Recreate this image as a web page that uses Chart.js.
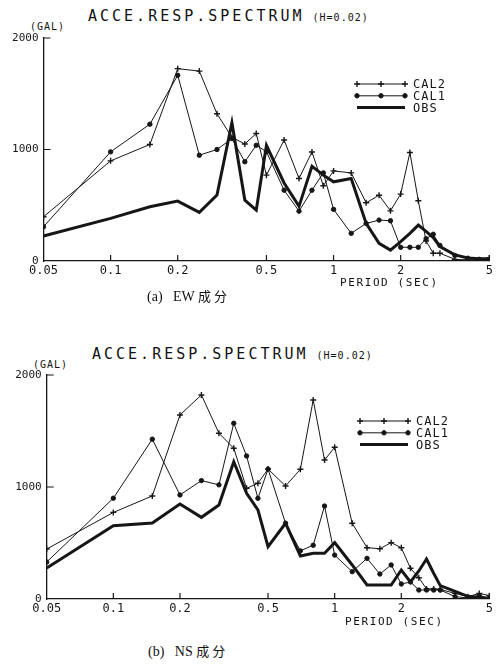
<!DOCTYPE html>
<html>
<head>
<meta charset="utf-8">
<script src="https://cdn.jsdelivr.net/npm/chart.js@4.4.1/dist/chart.umd.min.js"></script>
<style>
  body { margin: 0; background: #fff; }
  #page { position: relative; width: 496px; height: 666px; overflow: hidden;
          font-family: "DejaVu Sans Mono", monospace; color: #111; }
  .panel { position: absolute; left: 0; }
  .title { position: absolute; font-size: 15px; line-height: 15px; letter-spacing: 3px; white-space: nowrap; }
  .title span { font-size: 10px; letter-spacing: 1px; margin-left: 8px; }
  .unit { position: absolute; font-size: 10px; line-height: 10px; letter-spacing: 1px; }
  .xname { position: absolute; font-size: 11px; line-height: 11px; letter-spacing: 1.6px; white-space: nowrap; }
  .caption { position: absolute; font-family: "Liberation Serif", serif; font-size: 14px; line-height: 14px; white-space: nowrap; }
  .caption .cjk { font-family: "Noto Sans CJK SC", sans-serif; font-size: 13px; }
</style>
</head>
<body>
<div id="page">
  <div class="title" style="left:88px; top:9px;">ACCE.RESP.SPECTRUM<span>(H=0.02)</span></div>
  <div class="unit" style="left:30px; top:22px;">(GAL)</div>
  <canvas id="chartEW" class="panel" style="top:0px;" width="496" height="290"></canvas>
  <div class="xname" style="left:340px; top:277px;">PERIOD (SEC)</div>
  <div class="caption" style="left:147px; top:289px;">(a)&nbsp;&nbsp; EW <span class="cjk">成 分</span></div>

  <div class="title" style="left:92px; top:347px;">ACCE.RESP.SPECTRUM<span>(H=0.02)</span></div>
  <div class="unit" style="left:33px; top:360px;">(GAL)</div>
  <canvas id="chartNS" class="panel" style="top:330px;" width="496" height="290"></canvas>
  <div class="xname" style="left:345px; top:616px;">PERIOD (SEC)</div>
  <div class="caption" style="left:148px; top:644px;">(b)&nbsp;&nbsp; NS <span class="cjk">成 分</span></div>
</div>

<script>
/* ===============================
   DATA
================================ */
const periods = [0.05, 0.1, 0.15, 0.2, 0.25, 0.3, 0.35, 0.4, 0.45, 0.5, 0.6, 0.7, 0.8, 0.9,
  1.0, 1.2, 1.4, 1.6, 1.8, 2.0, 2.2, 2.4, 2.6, 2.8, 3.0, 3.5, 4.0, 4.5, 5.0];

const xTickValues = [0.05, 0.1, 0.2, 0.5, 1, 2, 5];
const xTickLabels = ["0.05", "0.1", "0.2", "0.5", "1", "2", "5"];
const yTickValues = [0, 1000, 2000];

// (a) EW
const ewCal2 = [397, 898, 1045, 1725, 1703, 1320, 1110, 1050, 1143, 770, 1085, 740, 978, 675,
  808, 790, 522, 590, 450, 600, 973, 540, 180, 70, 70, 15, 10, 5, 30];
const ewCal1 = [307, 979, 1227, 1666, 949, 1000, 1098, 890, 1038, 980, 635, 447, 635, 790,
  463, 248, 337, 367, 361, 123, 123, 123, 200, 240, 140, 50, 25, 15, 15];
const ewObs = [224, 382, 487, 537, 436, 591, 1240, 546, 456, 1038, 700, 490, 850, 770,
  710, 740, 337, 158, 98, 173, 248, 322, 265, 210, 130, 55, 27, 20, 20];

// (b) NS
const nsCal2 = [446, 773, 920, 1643, 1822, 1480, 1346, 988, 1033, 1160, 1009, 1158, 1777, 1241,
  1355, 676, 458, 449, 503, 458, 274, 190, 90, 90, 85, 50, 21, 50, 30];
const nsCal1 = [330, 900, 1427, 929, 1057, 1019, 1569, 1277, 899, 1160, 676, 430, 480, 830,
  392, 244, 363, 223, 304, 134, 152, 80, 80, 80, 80, 21, 9, 30, 10];
const nsObs = [276, 654, 678, 848, 729, 839, 1226, 944, 795, 467, 676, 384, 408, 408,
  503, 304, 125, 125, 125, 259, 152, 250, 357, 230, 119, 68, 24, 15, 0];

const INK = "#161616";
const MONO = "'DejaVu Sans Mono', monospace";

/* ===============================
   PLUGINS
================================ */
// ticks drawn inside the plot, like the plotter output
const innerTicks = {
  id: "innerTicks",
  afterDraw(chart) {
    const { ctx, chartArea, scales } = chart;
    ctx.save();
    ctx.strokeStyle = INK;
    ctx.lineWidth = 1.2;
    ctx.beginPath();
    xTickValues.slice(1).forEach((v) => {
      const px = scales.x.getPixelForValue(v);
      ctx.moveTo(px, chartArea.bottom);
      ctx.lineTo(px, chartArea.bottom - 6);
    });
    yTickValues.slice(1).forEach((v) => {
      const py = scales.y.getPixelForValue(v);
      ctx.moveTo(chartArea.left, py);
      ctx.lineTo(chartArea.left + 7, py);
    });
    ctx.stroke();
    ctx.restore();
  },
};

const boxLegend = {
  id: "boxLegend",
  afterDraw(chart, args, opts) {
    const { ctx } = chart;
    ctx.save();
    chart.data.datasets.forEach((ds, i) => {
      const y = opts.y + i * opts.gap;
      const x0 = opts.x, x1 = opts.x + opts.len;
      ctx.strokeStyle = ds.borderColor;
      ctx.lineWidth = ds.borderWidth;
      ctx.beginPath();
      ctx.moveTo(x0, y);
      ctx.lineTo(x1, y);
      ctx.stroke();
      if (ds.pointRadius > 0) {
        [x0, (x0 + x1) / 2, x1].forEach((px) => {
          ctx.fillStyle = ds.pointBackgroundColor;
          ctx.strokeStyle = ds.pointBorderColor;
          ctx.lineWidth = ds.pointBorderWidth;
          Chart.helpers.drawPoint(ctx, {
            pointStyle: ds.pointStyle,
            radius: ds.pointRadius,
            borderWidth: ds.pointBorderWidth,
            rotation: 0,
          }, px, y);
        });
      }
      ctx.fillStyle = INK;
      ctx.font = "12px " + MONO;
      ctx.letterSpacing = "1px";
      ctx.textBaseline = "middle";
      ctx.fillText(ds.label, x1 + 8, y + 1);
    });
    ctx.restore();
  },
};

/* ===============================
   CHART BUILDER
================================ */
function series(values) {
  return periods.map((p, i) => ({ x: p, y: values[i] }));
}

function makeChart(id, cal2, cal1, obs, g) {
  return new Chart(document.getElementById(id), {
    type: "line",
    data: {
      datasets: [
        {
          label: "CAL2",
          data: series(cal2),
          borderColor: INK,
          borderWidth: 1,
          pointStyle: "cross",
          pointRadius: 3,
          pointBorderWidth: 1.4,
          pointBorderColor: INK,
          pointBackgroundColor: INK,
        },
        {
          label: "CAL1",
          data: series(cal1),
          borderColor: INK,
          borderWidth: 1,
          pointStyle: "circle",
          pointRadius: 2.2,
          pointBorderWidth: 1,
          pointBorderColor: INK,
          pointBackgroundColor: INK,
        },
        {
          label: "OBS",
          data: series(obs),
          borderColor: INK,
          borderWidth: 3,
          pointRadius: 0,
          pointBorderWidth: 0,
          pointBorderColor: INK,
          pointBackgroundColor: INK,
        },
      ],
    },
    options: {
      responsive: false,
      animation: false,
      devicePixelRatio: 1,
      layout: { padding: { top: g.top, right: g.right, left: 0, bottom: 0 } },
      elements: { line: { tension: 0 } },
      plugins: {
        legend: { display: false },
        tooltip: { enabled: false },
        boxLegend: g.legend,
      },
      scales: {
        x: {
          type: "logarithmic",
          min: 0.05,
          max: 5,
          afterBuildTicks: (scale) => {
            scale.ticks = xTickValues.map((v) => ({ value: v }));
          },
          afterFit: (scale) => { scale.height = g.xh; },
          ticks: {
            autoSkip: false,
            maxRotation: 0,
            minRotation: 0,
            padding: 3,
            color: INK,
            font: { family: MONO, size: 12 },
            callback: (v) => xTickLabels[xTickValues.indexOf(v)] ?? "",
          },
          grid: { display: true, drawOnChartArea: false, drawTicks: false },
          border: { color: INK, width: 1.3 },
        },
        y: {
          min: 0,
          max: 2000,
          afterBuildTicks: (scale) => {
            scale.ticks = yTickValues.map((v) => ({ value: v }));
          },
          afterFit: (scale) => { scale.width = g.yw; },
          ticks: {
            padding: 5,
            color: INK,
            font: { family: MONO, size: 11 },
            callback: (v) => String(v),
          },
          grid: { display: true, drawOnChartArea: false, drawTicks: false },
          border: { color: INK, width: 1.3 },
        },
      },
    },
    plugins: [innerTicks, boxLegend],
  });
}

/* ===============================
   INIT
================================ */
makeChart("chartEW", ewCal2, ewCal1, ewObs, {
  top: 38, right: 6, xh: 29, yw: 43.5,
  legend: { x: 357, y: 84, gap: 11.8, len: 48 },
});

makeChart("chartNS", nsCal2, nsCal1, nsObs, {
  top: 45, right: 1, xh: 21, yw: 46.7,
  legend: { x: 360, y: 91, gap: 11.8, len: 48 },
});
</script>
</body>
</html>
